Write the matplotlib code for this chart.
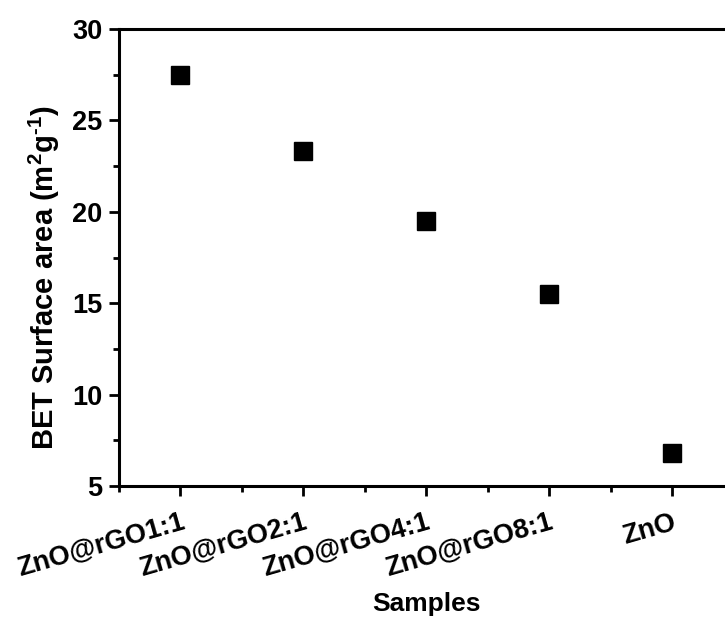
import matplotlib
matplotlib.use("Agg")
import matplotlib.pyplot as plt
from matplotlib.ticker import MultipleLocator

samples = ["ZnO@rGO1:1", "ZnO@rGO2:1", "ZnO@rGO4:1", "ZnO@rGO8:1", "ZnO"]
bet_area = [27.5, 23.3, 19.5, 15.5, 6.8]

plt.rcParams['font.family'] = ['Liberation Sans', 'DejaVu Sans']
plt.rcParams['font.weight'] = 'bold'
plt.rcParams['mathtext.fontset'] = 'custom'
plt.rcParams['mathtext.rm'] = 'Liberation Sans:bold'
plt.rcParams['mathtext.default'] = 'rm'

fig = plt.figure(figsize=(7.25, 6.21), dpi=100)
ax = fig.add_axes([119/725, 1-486/621, (733.5-119)/725, (486-29)/621])

x = list(range(1, len(samples)+1))
ax.plot(x, bet_area, linestyle='none', marker='s', markersize=12.5, color='black')

ax.set_xlim(0.5, 5.5)
ax.set_ylim(5, 30)
ax.set_xticks(x)
ax.set_xticklabels(samples, rotation=16, ha='right', rotation_mode='anchor', fontsize=19.5, fontweight='bold')
ax.xaxis.set_minor_locator(MultipleLocator(0.5))
ax.yaxis.set_major_locator(MultipleLocator(5))
ax.yaxis.set_minor_locator(MultipleLocator(2.5))
for lbl in ax.get_yticklabels():
    lbl.set_fontweight('bold')
ax.tick_params(axis='both', which='major', direction='out', length=7, width=2, labelsize=19.5, pad=5)
ax.tick_params(axis='x', which='major', pad=10)
ax.tick_params(axis='both', which='minor', direction='out', length=4, width=2)
ax.tick_params(right=False, top=False, which='both')
for s in ax.spines.values():
    s.set_linewidth(2.2)

ax.set_ylabel('BET Surface area (m$^2$g$^{\\text{-}1}$)', fontsize=21, fontweight='bold')
ax.yaxis.set_label_coords(-0.093, 0.455)
ax.set_xlabel('Samples', fontsize=19, fontweight='bold')
ax.xaxis.set_label_coords(0.501, -0.232)

fig.savefig('out.png', dpi=100)
